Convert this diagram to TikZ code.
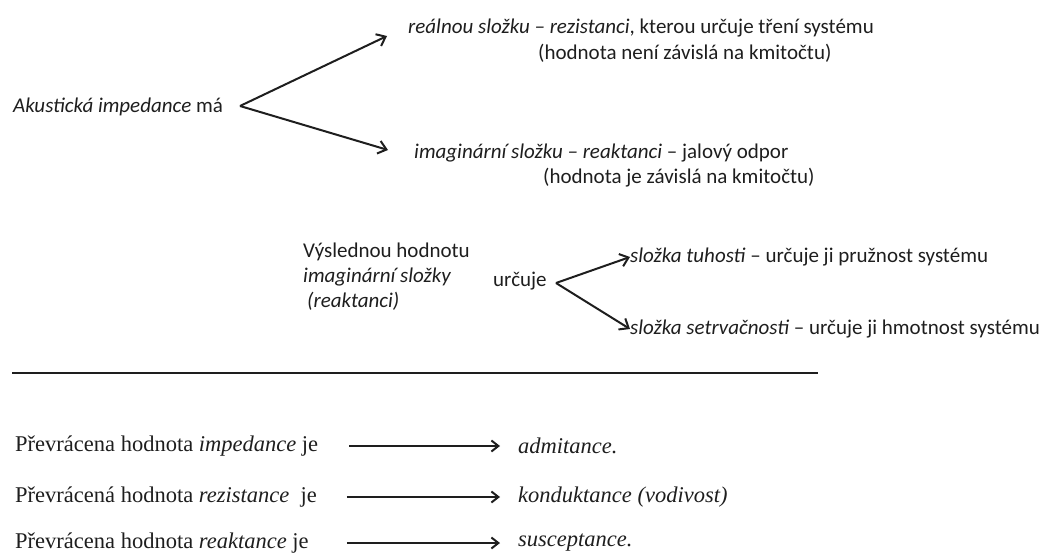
\documentclass[tikz,border=0pt]{standalone}
\usepackage{fontspec}
\setmainfont{Carlito}
\newfontfamily\rowfont{Liberation Serif}
\usepackage{tikz}
\usetikzlibrary{arrows.meta,positioning}
\definecolor{ink}{HTML}{1E1E1E}

\begin{document}
\begin{tikzpicture}[
    x=1pt,y=-1pt,
    sanstext/.style={anchor=west,inner sep=0pt,text=ink,font=\fontsize{21}{25}\selectfont},
    rowtext/.style={anchor=west,inner sep=0pt,text=ink,font=\rowfont\fontsize{22.5}{26}\selectfont},
    arrow/.style={-{Straight Barb[length=8pt,width=13pt,line width=2pt]},line width=2pt,draw=ink},
    rowarrow/.style={-{Straight Barb[length=7pt,width=11pt,line width=2pt]},line width=2pt,draw=ink}
  ]
    \useasboundingbox (0,0) rectangle (1048,559);
    % upper fork
    \node[sanstext] (akust) at (13,107) {\textit{Akustická impedance} má};
    \node[sanstext] (real) at (408,28) {\textit{reálnou složku – rezistanci}, kterou určuje tření systému};
    \node[sanstext] (realnote) at (538,53) {(hodnota není závislá na kmitočtu)};
    \node[sanstext] (imag) at (414,153) {\textit{imaginární složku – reaktanci} – jalový odpor};
    \node[sanstext] (imagnote) at (543,178) {(hodnota je závislá na kmitočtu)};
    \coordinate (fork1) at (240,106);
    \coordinate (realtip) at (387,36);
    \coordinate (imagtip) at (388,150);
    \draw[arrow] (fork1) -- (realtip);
    \draw[arrow] (fork1) -- (imagtip);
    % second fork
    \node[sanstext,align=left] (vysl) at (303,277) {Výslednou hodnotu\\\textit{imaginární složky}\\\hspace{4pt}\textit{(reaktanci)}};
    \node[sanstext] (urcuje) at (493,281) {určuje};
    \node[sanstext] (tuh) at (630,257) {\textit{složka tuhosti} – určuje ji pružnost systému};
    \node[sanstext] (setr) at (630,329) {\textit{složka setrvačnosti} – určuje ji hmotnost systému};
    \coordinate (fork2) at (556,283);
    \draw[arrow] (fork2) -- (tuh.west);
    \draw[arrow] (fork2) -- (setr.west);
    % separator
    \coordinate (sepl) at (12,373);
    \coordinate (sepr) at (818,373);
    \draw[line width=2.4pt,draw=ink] (sepl) -- (sepr);
    % reciprocal values
    \node[rowtext] (imp) at (15,446) {Převrácena hodnota \textit{impedance} je};
    \node[rowtext] (rez) at (15,497) {Převrácená hodnota \textit{rezistance}\ \ je};
    \node[rowtext] (rea) at (15,543) {Převrácena hodnota \textit{reaktance} je};
    \node[rowtext] (adm) at (518,446) {\textit{admitance.}};
    \node[rowtext] (kond) at (518,497) {\textit{konduktance (vodivost)}};
    \node[rowtext] (susc) at (518,543) {\textit{susceptance.}};
    \draw[rowarrow] ([xshift=31pt]imp.east) -- ([xshift=-18pt]adm.west);
    \draw[rowarrow] ([xshift=30pt]rez.east) -- ([xshift=-18pt]kond.west);
    \draw[rowarrow] ([xshift=38pt]rea.east) -- ([xshift=-18pt]susc.west);
  \end{tikzpicture}
\end{document}
